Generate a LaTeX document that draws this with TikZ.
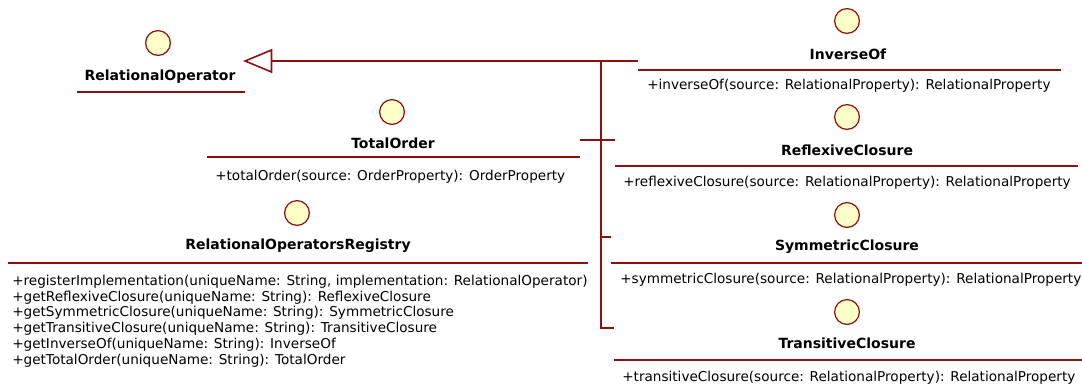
\documentclass[tikz,border=0pt]{standalone}
\usepackage{fontspec}
\setmainfont{DejaVu Sans}
\usetikzlibrary{arrows.meta}
\definecolor{umlred}{RGB}{140,16,16}
\definecolor{umlfill}{RGB}{255,255,200}

\begin{document}
\begin{tikzpicture}[x=0.75pt, y=-0.75pt,
        iface/.style={circle, draw=umlred, fill=umlfill, line width=0.9pt, minimum size=18.6pt, inner sep=0pt},
        cname/.style={font=\fontsize{10.5}{12}\selectfont\bfseries, inner sep=0pt},
        meth/.style={font=\fontsize{10.2}{11.8}\selectfont, inner sep=0pt, anchor=west, align=left},
        sep/.style={draw=umlred, line width=0.9pt},
        gen/.style={draw=umlred, line width=1.2pt}]
        \useasboundingbox (0, 0) rectangle (1082, 387);

        % Nodes
        % ro & inv & to & ref & reg & sym & tra

        \node[iface] at (158, 43)  (roC)  {};
        \node[cname] at (160, 77)  (roT)  {RelationalOperator};
        \draw[sep] (77, 92) -- (245, 92);

        \node[iface] at (847, 21)  (invC) {};
        \node[cname] at (848, 54)  (invT) {InverseOf};
        \draw[sep] (638, 70) -- (1061, 70);
        \node[meth]  at (647, 86)  (invM) {+inverseOf(source: RelationalProperty): RelationalProperty};

        \node[iface] at (392, 112) (toC)  {};
        \node[cname] at (393, 143) (toT)  {TotalOrder};
        \draw[sep] (207, 157) -- (580, 157);
        \node[meth]  at (215, 177) (toM)  {+totalOrder(source: OrderProperty): OrderProperty};

        \node[iface] at (847, 117) (refC) {};
        \node[cname] at (847, 150) (refT) {ReflexiveClosure};
        \draw[sep] (615, 166) -- (1078, 166);
        \node[meth]  at (623, 183) (refM) {+reflexiveClosure(source: RelationalProperty): RelationalProperty};

        \node[iface] at (297, 213) (regC) {};
        \node[cname] at (298, 246) (regT) {RelationalOperatorsRegistry};
        \draw[sep] (8, 263) -- (588, 263);
        \node[meth]  at (12, 321)  (regM) {+registerImplementation(uniqueName: String, implementation: RelationalOperator)\\
            +getReflexiveClosure(uniqueName: String): ReflexiveClosure\\
            +getSymmetricClosure(uniqueName: String): SymmetricClosure\\
            +getTransitiveClosure(uniqueName: String): TransitiveClosure\\
            +getInverseOf(uniqueName: String): InverseOf\\
            +getTotalOrder(uniqueName: String): TotalOrder};

        \node[iface] at (847, 215) (symC) {};
        \node[cname] at (847, 247) (symT) {SymmetricClosure};
        \draw[sep] (611, 263) -- (1082, 263);
        \node[meth]  at (620, 280) (symM) {+symmetricClosure(source: RelationalProperty): RelationalProperty};

        \node[iface] at (847, 312) (traC) {};
        \node[cname] at (847, 343) (traT) {TransitiveClosure};
        \draw[sep] (614, 360) -- (1082, 360);
        \node[meth]  at (622, 378) (traM) {+transitiveClosure(source: RelationalProperty): RelationalProperty};

        % Generalization
        \coordinate (roA)  at (243, 61);
        \coordinate (invA) at (638, 61);
        \coordinate (jn)   at (601, 61);
        \coordinate (toA)  at (580, 140);
        \coordinate (refA) at (615, 140);
        \coordinate (symA) at (611, 237);
        \coordinate (traA) at (614, 328);

        \draw[gen, -{Triangle[open, length=22pt, width=18pt]}] (invA) -- (roA);
        \draw[gen] (toA) -- (refA);
        \draw[gen] (jn) |- (symA);
        \draw[gen] (jn) |- (traA);

    \end{tikzpicture}
\end{document}
